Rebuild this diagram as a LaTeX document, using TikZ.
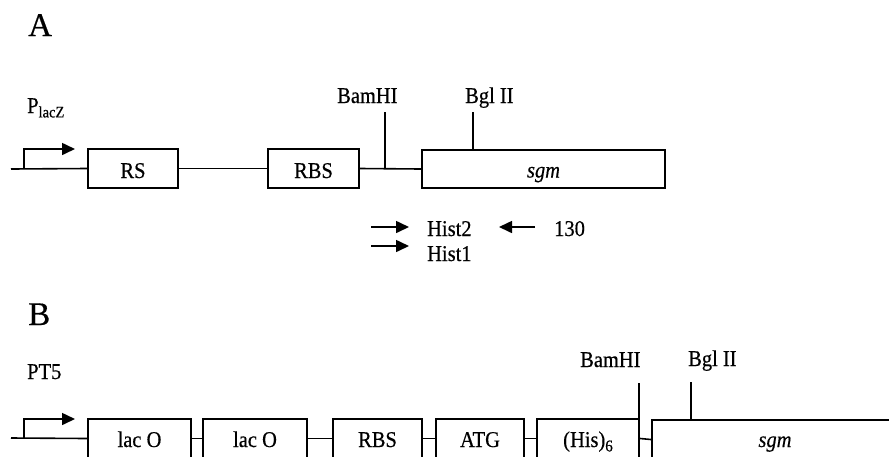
\documentclass[tikz,border=0pt]{standalone}
\usepackage{fontspec}
\usepackage{graphicx}
\setmainfont{Liberation Serif}
\usetikzlibrary{arrows.meta}
\newcommand\tx[1]{\scalebox{1}[1.1]{#1}}
\begin{document}
\begin{tikzpicture}[x=1pt,y=-1pt,
  txt/.style={inner sep=0pt, font=\fontsize{20.5}{24}\selectfont\addfontfeatures{FakeBold=0.5}},
  big/.style={inner sep=0pt, font=\fontsize{33}{38}\selectfont\addfontfeatures{FakeBold=0.5}},
  gbox/.style={draw, line width=2.2pt, inner sep=0pt, minimum height=39pt},
  dna/.style={line width=1.6pt},
  tick/.style={line width=1.6pt},
  prom/.style={line width=1.6pt, -{Triangle[length=13pt,width=12pt]}},
  primer/.style={line width=1.6pt, -{Triangle[length=13pt,width=12pt]}}]
\useasboundingbox (0,0) rectangle (889,456);
\clip (0,0) rectangle (889,456);

% ---------- Panel A ----------
\node[big, anchor=base west] (labA) at (28,36) {A};
\node[txt, anchor=base west] (plac) at (27,113) {\tx{P\raisebox{-4pt}{\fontsize{14.5}{14}\selectfont lacZ}}};

\node[gbox, minimum width=90pt] (rs) at (133,168.5) {};
\node[gbox, minimum width=91pt] (rbsA) at (313.5,168.5) {};
\node[gbox, minimum width=243pt, minimum height=38pt] (sgmA) at (543.5,169) {};
\node[txt, anchor=base] (rsT) at ([yshift=-9.5pt]rs.center) {\tx{RS}};
\node[txt, anchor=base] (rbsAT) at ([yshift=-9.5pt]rbsA.center) {\tx{RBS}};
\node[txt, anchor=base] (sgmAT) at ([yshift=-8.5pt]sgmA.center) {\tx{\itshape sgm}};

\coordinate (la0) at (11,169);
\draw[dna] (la0) -- (rs.west);
\draw[dna] (rs.east) -- (rbsA.west);
\draw[dna] (rbsA.east) -- (sgmA.west);

\coordinate (pa0) at (24,169);
\coordinate (pa1) at (75,149);
\draw[prom] (pa0) |- (pa1);

\coordinate (bamA) at (385,112);
\coordinate (bamAb) at (385,169);
\draw[tick] (bamA) -- (bamAb);
\coordinate (bglA) at (473,112);
\draw[tick] (bglA) -- (bglA |- sgmA.north);

\node[txt, anchor=base west] (bamAT) at (337,103) {\tx{BamHI}};
\node[txt, anchor=base west] (bglAT) at (465,103) {\tx{Bgl II}};

% primers
\coordinate (h2a) at (371,227);
\coordinate (h2b) at (409,227);
\draw[primer] (h2a) -- (h2b);
\coordinate (h1a) at (371,246);
\coordinate (h1b) at (409,246);
\draw[primer] (h1a) -- (h1b);
\coordinate (r1a) at (535,227);
\coordinate (r1b) at (499,227);
\draw[primer] (r1a) -- (r1b);
\node[txt, anchor=base west] (h2T) at (427,236) {\tx{Hist2}};
\node[txt, anchor=base west] (h1T) at (427,261) {\tx{Hist1}};
\node[txt, anchor=base west] (r1T) at (554,236) {\tx{130}};

% ---------- Panel B ----------
\node[big, anchor=base west] (labB) at (28,325) {B};
\node[txt, anchor=base west] (pt5) at (27,379) {\tx{PT5}};

\node[gbox, minimum width=103pt] (lac1) at (139.5,438.5) {};
\node[gbox, minimum width=104pt] (lac2) at (255,438.5) {};
\node[gbox, minimum width=89pt] (rbsB) at (377.5,438.5) {};
\node[gbox, minimum width=88pt] (atg) at (480,438.5) {};
\node[gbox, minimum width=102pt] (his) at (588,438.5) {};
\node[gbox, minimum width=248pt] (sgmB) at (776,439.5) {};

\node[txt, anchor=base] (lac1T) at (139.5,447) {\tx{lac O}};
\node[txt, anchor=base] (lac2T) at (255,447) {\tx{lac O}};
\node[txt, anchor=base] (rbsBT) at (377.5,447) {\tx{RBS}};
\node[txt, anchor=base] (atgT) at (480,447) {\tx{ATG}};
\node[txt, anchor=base] (hisT) at (588,447) {\tx{(His)\raisebox{-4pt}{\fontsize{15}{15}\selectfont 6}}};
\node[txt, anchor=base] (sgmBT) at (775,447) {\tx{\itshape sgm}};

\coordinate (lb0) at (11,438);
\draw[dna] (lb0) -- (lac1.west);
\draw[dna] (lac1.east) -- (lac2.west);
\draw[dna] (lac2.east) -- (rbsB.west);
\draw[dna] (rbsB.east) -- (atg.west);
\draw[dna] (atg.east) -- (his.west);
\draw[dna] (his.east) -- (sgmB.west);

\coordinate (pb0) at (24,438);
\coordinate (pb1) at (75,419);
\draw[prom] (pb0) |- (pb1);

\coordinate (bamB) at (639,383);
\draw[tick] (bamB) -- (bamB |- his.north);
\coordinate (bglB) at (691,382);
\draw[tick] (bglB) -- (bglB |- sgmB.north);

\node[txt, anchor=base west] (bamBT) at (580,367) {\tx{BamHI}};
\node[txt, anchor=base west] (bglBT) at (688,366) {\tx{Bgl II}};
\end{tikzpicture}
\end{document}
